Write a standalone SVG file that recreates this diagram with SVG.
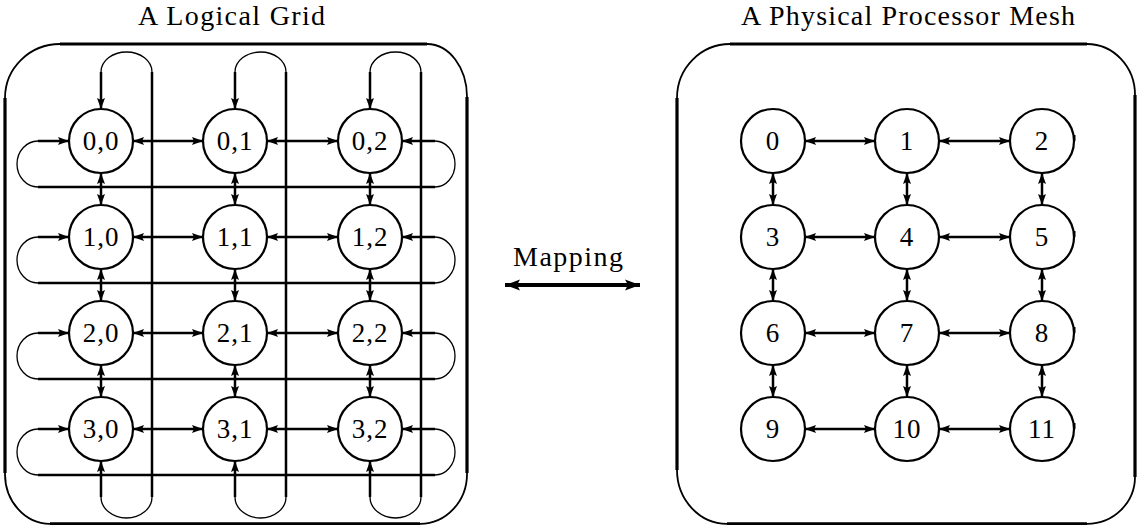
<svg xmlns="http://www.w3.org/2000/svg" width="1137" height="525" viewBox="0 0 1137 525">
<style>
text{font-family:"Liberation Serif","Times New Roman",serif;fill:#000}
.t{font-size:28px}
.n{font-size:27px;text-anchor:middle;letter-spacing:1px}
circle{fill:#fff;stroke:#000;stroke-width:2.2}
.c{stroke:#000;stroke-width:2.5;fill:none}
.a{marker-end:url(#ah)}
.aa{marker-start:url(#ah);marker-end:url(#ah)}
.arc{stroke:#000;stroke-width:1.3;fill:none}
.box{stroke:#000;stroke-width:3.2;fill:none}
.barc{stroke:#000;stroke-width:1.8;fill:none}
.tick{stroke:#000;stroke-width:2;fill:none}
</style>
<defs>
<marker id="ah" markerUnits="userSpaceOnUse" markerWidth="12" markerHeight="9" refX="11" refY="4" orient="auto-start-reverse" viewBox="0 0 12 8">
<path d="M0,0 L11,4 L0,8 L2,4 z" fill="#000"/>
</marker>
<marker id="bh" markerUnits="userSpaceOnUse" markerWidth="16" markerHeight="12" refX="15" refY="5.5" orient="auto-start-reverse" viewBox="0 0 16 11">
<path d="M0,0 L15,5.5 L0,11 L3,5.5 z" fill="#000"/>
</marker>
</defs>

<g id="titles">
<text class="t" x="138" y="25" textLength="187" lengthAdjust="spacing">A Logical Grid</text>
<text class="t" x="741" y="25" textLength="334" lengthAdjust="spacing">A Physical Processor Mesh</text>
</g>

<g id="logical-frame">
<path class="box" d="M60,44 H427 M467,97 V473 M420,523.8 H50 M5,473 V98"/>
<path class="barc" d="M5,98 A55,54 0 0 1 60,44 M427,44 A40,53 0 0 1 467,97 M467,473 A47,50 0 0 1 420,523.8 M50,523.8 A45,50 0 0 1 5,473"/>
</g>

<g id="physical-frame">
<path class="box" d="M730,44 H1087 M1135,95 V477 M1087,523.8 H727 M677,470 V98"/>
<path class="barc" d="M677,98 A53,54 0 0 1 730,44 M1087,44 A48,51 0 0 1 1135,95 M1135,477 A48,47 0 0 1 1087,523.8 M727,523.8 A50,54 0 0 1 677,470"/>
</g>

<g id="connectors">
<line class="c aa" x1="133" y1="141" x2="203" y2="141"/>
<line class="c aa" x1="267" y1="141" x2="338" y2="141"/>
<line class="c aa" x1="133" y1="237" x2="203" y2="237"/>
<line class="c aa" x1="267" y1="237" x2="338" y2="237"/>
<line class="c aa" x1="133" y1="333" x2="203" y2="333"/>
<line class="c aa" x1="267" y1="333" x2="338" y2="333"/>
<line class="c aa" x1="133" y1="429" x2="203" y2="429"/>
<line class="c aa" x1="267" y1="429" x2="338" y2="429"/>
<line class="c aa" x1="101" y1="173" x2="101" y2="205"/>
<line class="c aa" x1="101" y1="269" x2="101" y2="301"/>
<line class="c aa" x1="101" y1="365" x2="101" y2="397"/>
<line class="c aa" x1="235" y1="173" x2="235" y2="205"/>
<line class="c aa" x1="235" y1="269" x2="235" y2="301"/>
<line class="c aa" x1="235" y1="365" x2="235" y2="397"/>
<line class="c aa" x1="370" y1="173" x2="370" y2="205"/>
<line class="c aa" x1="370" y1="269" x2="370" y2="301"/>
<line class="c aa" x1="370" y1="365" x2="370" y2="397"/>
<g id="row-wraps">
<line class="c a" x1="435" y1="141" x2="402" y2="141"/>
<path class="arc" d="M435,141 A20,23 0 0 1 435,187"/>
<line class="c" x1="435" y1="187" x2="38" y2="187"/>
<path class="arc" d="M38,187 A21,23 0 0 1 38,141"/>
<line class="c a" x1="38" y1="141" x2="69" y2="141"/>
<line class="c a" x1="435" y1="237" x2="402" y2="237"/>
<path class="arc" d="M435,237 A20,23 0 0 1 435,283"/>
<line class="c" x1="435" y1="283" x2="38" y2="283"/>
<path class="arc" d="M38,283 A21,23 0 0 1 38,237"/>
<line class="c a" x1="38" y1="237" x2="69" y2="237"/>
<line class="c a" x1="435" y1="333" x2="402" y2="333"/>
<path class="arc" d="M435,333 A20,23 0 0 1 435,379"/>
<line class="c" x1="435" y1="379" x2="38" y2="379"/>
<path class="arc" d="M38,379 A21,23 0 0 1 38,333"/>
<line class="c a" x1="38" y1="333" x2="69" y2="333"/>
<line class="c a" x1="435" y1="429" x2="402" y2="429"/>
<path class="arc" d="M435,429 A20,23 0 0 1 435,475"/>
<line class="c" x1="435" y1="475" x2="38" y2="475"/>
<path class="arc" d="M38,475 A21,23 0 0 1 38,429"/>
<line class="c a" x1="38" y1="429" x2="69" y2="429"/>
</g>
<g id="col-wraps">
<line class="c" x1="152" y1="72" x2="152" y2="497"/>
<path class="arc" d="M101,72 A25.5,20 0 0 1 152,72"/>
<line class="c a" x1="101" y1="72" x2="101" y2="109"/>
<path class="arc" d="M152,497 A25.5,21 0 0 1 101,497"/>
<line class="c a" x1="101" y1="497" x2="101" y2="461"/>
<line class="c" x1="286" y1="72" x2="286" y2="497"/>
<path class="arc" d="M235,72 A25.5,20 0 0 1 286,72"/>
<line class="c a" x1="235" y1="72" x2="235" y2="109"/>
<path class="arc" d="M286,497 A25.5,21 0 0 1 235,497"/>
<line class="c a" x1="235" y1="497" x2="235" y2="461"/>
<line class="c" x1="421" y1="72" x2="421" y2="497"/>
<path class="arc" d="M370,72 A25.5,20 0 0 1 421,72"/>
<line class="c a" x1="370" y1="72" x2="370" y2="109"/>
<path class="arc" d="M421,497 A25.5,21 0 0 1 370,497"/>
<line class="c a" x1="370" y1="497" x2="370" y2="461"/>
</g>
<line class="c aa" x1="805" y1="141" x2="875" y2="141"/>
<line class="c aa" x1="939" y1="141" x2="1010" y2="141"/>
<line class="c aa" x1="805" y1="237" x2="875" y2="237"/>
<line class="c aa" x1="939" y1="237" x2="1010" y2="237"/>
<line class="c aa" x1="805" y1="333" x2="875" y2="333"/>
<line class="c aa" x1="939" y1="333" x2="1010" y2="333"/>
<line class="c aa" x1="805" y1="429" x2="875" y2="429"/>
<line class="c aa" x1="939" y1="429" x2="1010" y2="429"/>
<line class="c aa" x1="773" y1="173" x2="773" y2="205"/>
<line class="c aa" x1="773" y1="269" x2="773" y2="301"/>
<line class="c aa" x1="773" y1="365" x2="773" y2="397"/>
<line class="c aa" x1="907" y1="173" x2="907" y2="205"/>
<line class="c aa" x1="907" y1="269" x2="907" y2="301"/>
<line class="c aa" x1="907" y1="365" x2="907" y2="397"/>
<line class="c aa" x1="1042" y1="173" x2="1042" y2="205"/>
<line class="c aa" x1="1042" y1="269" x2="1042" y2="301"/>
<line class="c aa" x1="1042" y1="365" x2="1042" y2="397"/>
</g>

<g id="mapping">
<text x="513" y="266" style="font-size:28px" textLength="110" lengthAdjust="spacing">Mapping</text>
<line x1="505" y1="285" x2="640" y2="285" stroke="#000" stroke-width="3.8" marker-start="url(#bh)" marker-end="url(#bh)"/>
</g>

<g id="n00"><circle cx="101" cy="141" r="32"/><text class="n" x="101" y="150">0,0</text></g>
<g id="n01"><circle cx="235" cy="141" r="32"/><text class="n" x="235" y="150">0,1</text></g>
<g id="n02"><circle cx="370" cy="141" r="32"/><text class="n" x="370" y="150">0,2</text></g>
<g id="n10"><circle cx="101" cy="237" r="32"/><text class="n" x="101" y="246">1,0</text></g>
<g id="n11"><circle cx="235" cy="237" r="32"/><text class="n" x="235" y="246">1,1</text></g>
<g id="n12"><circle cx="370" cy="237" r="32"/><text class="n" x="370" y="246">1,2</text></g>
<g id="n20"><circle cx="101" cy="333" r="32"/><text class="n" x="101" y="342">2,0</text></g>
<g id="n21"><circle cx="235" cy="333" r="32"/><text class="n" x="235" y="342">2,1</text></g>
<g id="n22"><circle cx="370" cy="333" r="32"/><text class="n" x="370" y="342">2,2</text></g>
<g id="n30"><circle cx="101" cy="429" r="32"/><text class="n" x="101" y="438">3,0</text></g>
<g id="n31"><circle cx="235" cy="429" r="32"/><text class="n" x="235" y="438">3,1</text></g>
<g id="n32"><circle cx="370" cy="429" r="32"/><text class="n" x="370" y="438">3,2</text></g>

<g id="p0"><circle cx="773" cy="141" r="32"/><text class="n" x="773" y="150">0</text></g>
<g id="p1"><circle cx="907" cy="141" r="32"/><text class="n" x="907" y="150">1</text></g>
<g id="p2"><circle cx="1042" cy="141" r="32"/><path class="tick" d="M1074.5,135 V141"/><text class="n" x="1042" y="150">2</text></g>
<g id="p3"><circle cx="773" cy="237" r="32"/><text class="n" x="773" y="246">3</text></g>
<g id="p4"><circle cx="907" cy="237" r="32"/><text class="n" x="907" y="246">4</text></g>
<g id="p5"><circle cx="1042" cy="237" r="32"/><path class="tick" d="M1074.5,231 V237"/><text class="n" x="1042" y="246">5</text></g>
<g id="p6"><circle cx="773" cy="333" r="32"/><text class="n" x="773" y="342">6</text></g>
<g id="p7"><circle cx="907" cy="333" r="32"/><text class="n" x="907" y="342">7</text></g>
<g id="p8"><circle cx="1042" cy="333" r="32"/><path class="tick" d="M1074.5,327 V333"/><text class="n" x="1042" y="342">8</text></g>
<g id="p9"><circle cx="773" cy="429" r="32"/><text class="n" x="773" y="438">9</text></g>
<g id="p10"><circle cx="907" cy="429" r="32"/><text class="n" x="907" y="438">10</text></g>
<g id="p11"><circle cx="1042" cy="429" r="32"/><path class="tick" d="M1074.5,423 V429"/><text class="n" x="1042" y="438">11</text></g>
</svg>
